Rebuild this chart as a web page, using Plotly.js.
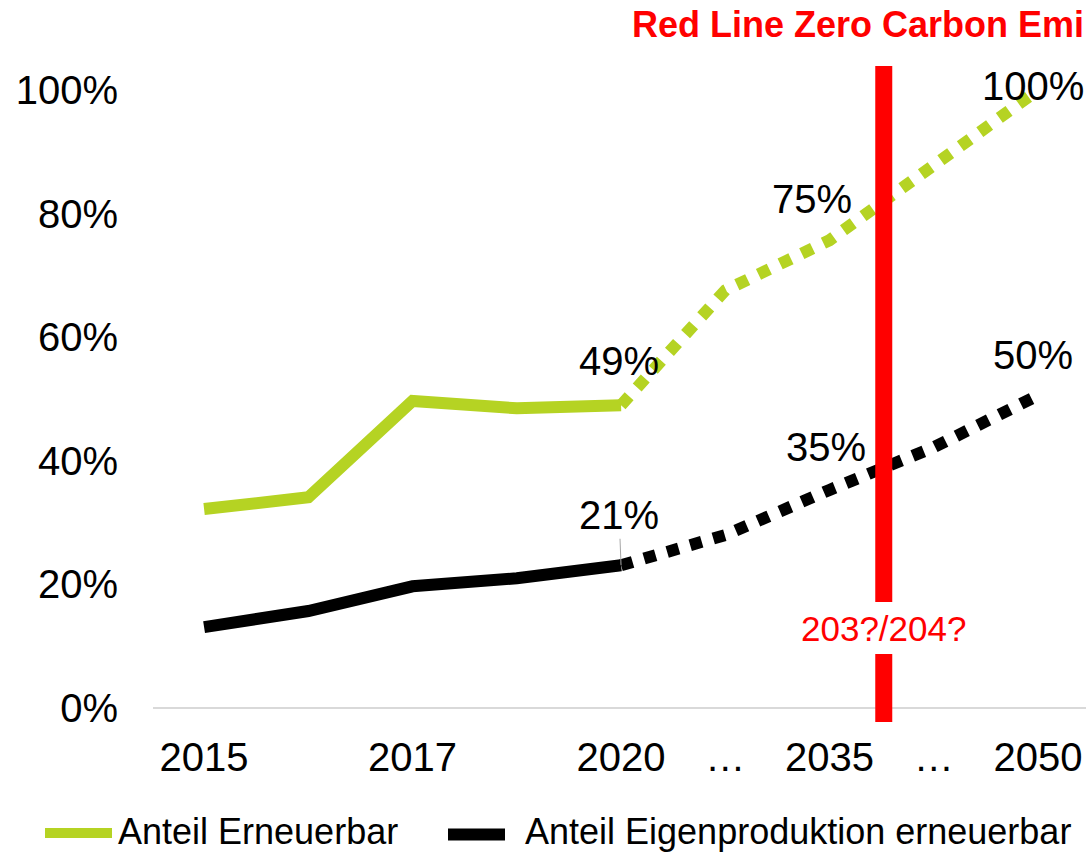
<!DOCTYPE html>
<html>
<head>
<meta charset="utf-8">
<script src="https://cdn.plot.ly/plotly-3.0.1.min.js"></script>
<style>html,body{margin:0;padding:0;background:#fff;overflow:hidden}</style>
</head>
<body>
<div id="chart" style="width:1086px;height:853px"></div>
<script>
// ---- data ----
const positions = [0, 1, 2, 3, 4, 5, 6, 7, 8];
const tickLabels = ["2015", "", "2017", "", "2020", "\u2026", "2035", "\u2026", "2050"];
const yTickValues = [0, 20, 40, 60, 80, 100];
const yTickLabels = ["0%", "20%", "40%", "60%", "80%", "100%"];
const erneuerbar = [32.2, 34.1, 49.7, 48.5, 49.0, 67.6, 75.7, 88.0, 100.0];
const eigenproduktion = [13.1, 15.7, 19.7, 21.0, 23.1, 28.0, 35.3, 42.2, 50.6];
const splitIndex = 4; // last actual value (2020); dashed = projection
const seriesNames = ["Anteil Erneuerbar", "Anteil Eigenproduktion erneuerbar"];
const greenLabels = [{i: 4, text: "49%"}, {i: 6, text: "75%"}, {i: 8, text: "100%"}];
const blackLabels = [{i: 4, text: "21%"}, {i: 6, text: "35%"}, {i: 8, text: "50%"}];
const redLineX = 6.52;
const redLineLabel = "203?/204?";
const titleText = "Red Line Zero Carbon Emi";

const GREEN = "#b5d323";
const BLACK = "#000000";
const RED = "#ff0000";
const FONT = "Liberation Sans, Arial, sans-serif";

function part(arr, solid) {
  return solid ? arr.slice(0, splitIndex + 1) : arr.slice(splitIndex);
}

const traces = [
  {x: part(positions, true), y: part(erneuerbar, true), name: seriesNames[0], mode: "lines",
   line: {color: GREEN, width: 12}, showlegend: false, hoverinfo: "skip"},
  {x: part(positions, false), y: part(erneuerbar, false), name: seriesNames[0], mode: "lines",
   line: {color: GREEN, width: 12, dash: "12px,12px"}, showlegend: false, hoverinfo: "skip"},
  {x: part(positions, true), y: part(eigenproduktion, true), name: seriesNames[1], mode: "lines",
   line: {color: BLACK, width: 12}, showlegend: false, hoverinfo: "skip"},
  {x: part(positions, false), y: part(eigenproduktion, false), name: seriesNames[1], mode: "lines",
   line: {color: BLACK, width: 12, dash: "12px,12px"}, showlegend: false, hoverinfo: "skip"}
];

// pixel helpers for paper coords (plot area: left 153, width 933, bottom 727, height 674)
const PL = 153, PW = 933, PB = 727, PH = 674;
const px = v => (v - PL) / PW;
const py = v => (PB - v) / PH;

const annotations = [];
// data labels
const greenOffsets = {4: [-2, -44], 6: [-18, -41], 8: [-5, -4]};
greenLabels.forEach(l => annotations.push({
  x: positions[l.i], y: erneuerbar[l.i], xref: "x", yref: "y", text: l.text, showarrow: false,
  xshift: greenOffsets[l.i][0], yshift: -greenOffsets[l.i][1],
  font: {family: FONT, size: 40, color: "#000"}
}));
const blackOffsets = {6: [-4, -43], 8: [-5, -40]};
blackLabels.forEach(l => {
  if (l.i === 4) {
    annotations.push({
      x: positions[l.i], y: eigenproduktion[l.i], xref: "x", yref: "y", text: l.text,
      showarrow: true, arrowhead: 0, arrowwidth: 1, arrowcolor: "#a6a6a6", ax: -2, ay: -50,
      font: {family: FONT, size: 40, color: "#000"}
    });
  } else {
    annotations.push({
      x: positions[l.i], y: eigenproduktion[l.i], xref: "x", yref: "y", text: l.text, showarrow: false,
      xshift: blackOffsets[l.i][0], yshift: -blackOffsets[l.i][1],
      font: {family: FONT, size: 40, color: "#000"}
    });
  }
});
// red line label
annotations.push({
  x: redLineX, y: (708 - 628) / 6.18, xref: "x", yref: "y", text: redLineLabel, showarrow: false,
  font: {family: FONT, size: 35, color: RED}
});
// title
annotations.push({
  x: px(630), y: py(24), xref: "paper", yref: "paper", xanchor: "left", yanchor: "middle",
  text: "<b>" + titleText + "</b>", showarrow: false,
  font: {family: FONT, size: 36, color: RED}
});
// legend texts
annotations.push({
  x: px(116), y: py(831), xref: "paper", yref: "paper", xanchor: "left", yanchor: "middle",
  text: seriesNames[0], showarrow: false, font: {family: FONT, size: 36, color: "#000"}
});
annotations.push({
  x: px(523), y: py(831), xref: "paper", yref: "paper", xanchor: "left", yanchor: "middle",
  text: seriesNames[1], showarrow: false, font: {family: FONT, size: 36, color: "#000"}
});

const shapes = [
  // red line (two segments around label)
  {type: "line", xref: "x", yref: "y", x0: redLineX, x1: redLineX,
   y0: (708 - 66) / 6.18, y1: (708 - 602) / 6.18, line: {color: RED, width: 17}, layer: "above"},
  {type: "line", xref: "x", yref: "y", x0: redLineX, x1: redLineX,
   y0: (708 - 654) / 6.18, y1: (708 - 722) / 6.18, line: {color: RED, width: 17}, layer: "above"},
  // legend swatches
  {type: "line", xref: "paper", yref: "paper", x0: px(45), x1: px(112), y0: py(833), y1: py(833),
   line: {color: GREEN, width: 10}},
  {type: "line", xref: "paper", yref: "paper", x0: px(448), x1: px(505), y0: py(834.5), y1: py(834.5),
   line: {color: BLACK, width: 12}}
];

const layout = {
  width: 1086, height: 853, autosize: false,
  margin: {l: PL, r: 0, t: 53, b: 126, pad: 0},
  paper_bgcolor: "#ffffff", plot_bgcolor: "#ffffff",
  showlegend: false,
  font: {family: FONT, color: "#000"},
  xaxis: {
    range: [-0.49, 8.46], tickmode: "array", tickvals: positions, ticktext: tickLabels,
    showgrid: false, zeroline: false, showline: false,
    ticks: "", ticklabelstandoff: 3,
    tickfont: {family: FONT, size: 40, color: "#000"}, fixedrange: true
  },
  yaxis: {
    range: [-3.07, 106.0], tickmode: "array", tickvals: yTickValues, ticktext: yTickLabels,
    showgrid: false, zeroline: true, zerolinecolor: "#d9d9d9", zerolinewidth: 2.5,
    showline: false, ticks: "outside", ticklen: 26, tickcolor: "rgba(0,0,0,0)",
    tickfont: {family: FONT, size: 40, color: "#000"}, fixedrange: true
  },
  shapes: shapes,
  annotations: annotations
};

Plotly.newPlot("chart", traces, layout, {displayModeBar: false, staticPlot: true});
</script>
</body>
</html>
